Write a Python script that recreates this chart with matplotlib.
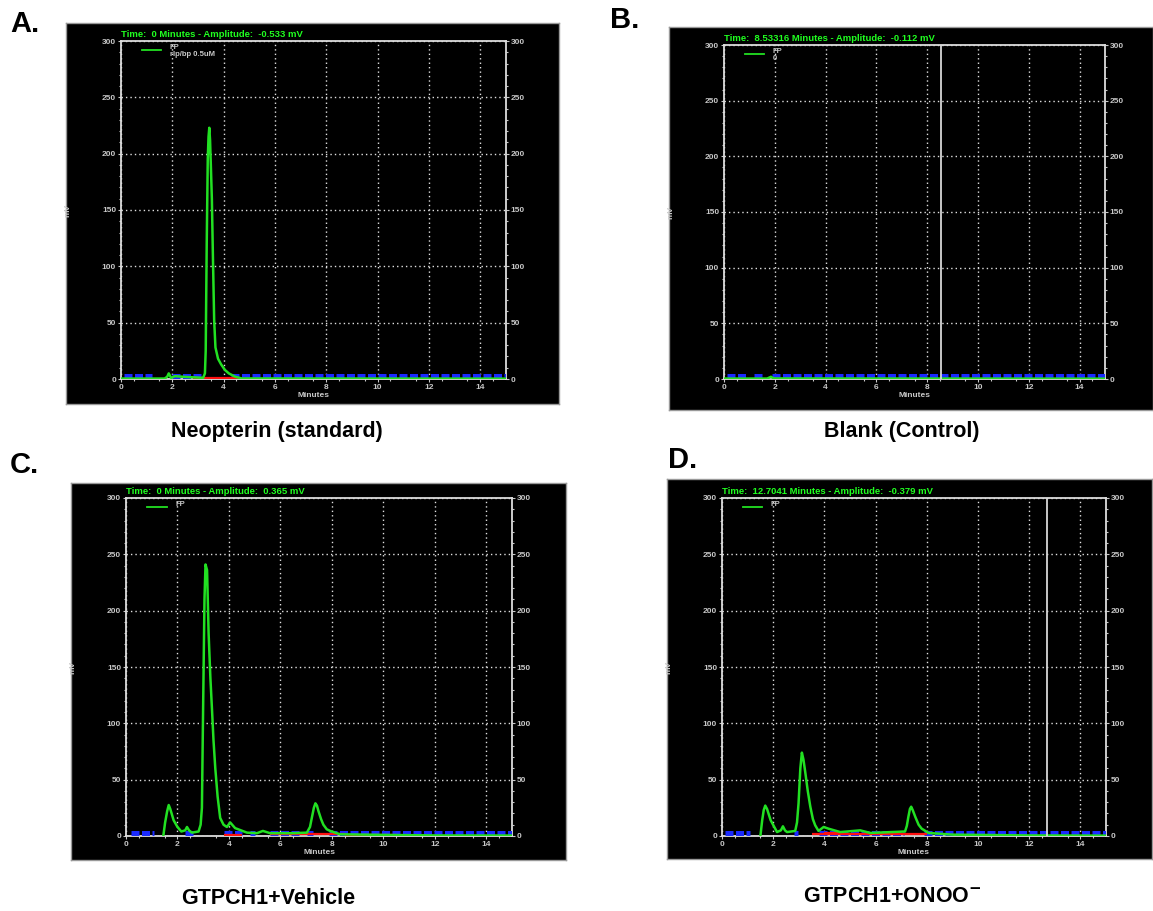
import matplotlib
matplotlib.use("Agg")
import matplotlib.pyplot as plt

W, H = 1153, 911

# green FP traces (minutes, mV)
time_a = [0, 1.7, 1.8, 1.86, 1.95, 2.1, 2.4, 3.2, 3.27, 3.3, 3.34, 3.38, 3.41, 3.44, 3.47,
          3.5, 3.54, 3.58, 3.63, 3.68, 3.78, 3.9, 4.05, 4.2, 4.45, 4.7, 15]
mv_a = [0.4, 0.4, 2, 5, 1, 2.5, 2, 1, 5, 25, 120, 195, 215, 223, 212,
        190, 160, 110, 52, 28, 18, 13, 8, 5, 2, 0.5, 0.3]

time_b = [0, 1.7, 1.85, 1.95, 2.1, 15]
mv_b = [0.4, 0.4, 2, 0.6, 0.5, 0.3]

time_c = [1.45, 1.52, 1.6, 1.66, 1.72, 1.85, 2.0, 2.15, 2.3, 2.37, 2.45, 2.56, 2.82, 2.9, 2.95,
          3.0, 3.05, 3.09, 3.15, 3.21, 3.28, 3.34, 3.4, 3.47, 3.56, 3.66, 3.79, 3.92, 4.05,
          4.24, 4.7, 5.09, 5.32, 5.6, 6.5, 7.03, 7.15, 7.22, 7.3, 7.36, 7.42, 7.48, 7.58,
          7.67, 7.8, 7.93, 8.32, 10, 12, 15]
mv_c = [0, 12, 22, 27.5, 24, 14, 8, 4, 5, 8, 5, 3, 4, 10, 25,
        120, 210, 241, 236, 180, 140, 113, 85, 60, 35, 16, 10, 8, 12,
        7, 3, 2.5, 4.5, 2.5, 2.5, 3, 8, 16, 25, 29, 27, 22, 15,
        10, 6, 4.5, 1.5, 1, 0.5, 0.4]

time_d = [1.5, 1.57, 1.63, 1.69, 1.76, 1.9, 2.15, 2.3, 2.38, 2.46, 2.54, 2.86, 2.93, 2.99,
          3.06, 3.12, 3.18, 3.25, 3.35, 3.45, 3.55, 3.64, 3.77, 3.97, 4.16, 4.62, 5.4,
          5.79, 7.15, 7.22, 7.28, 7.34, 7.39, 7.45, 7.55, 7.68, 7.8, 8.07, 9, 12, 15]
mv_d = [0, 14, 23, 27, 24, 14, 3.5, 5, 8.6, 5, 3.5, 4.5, 12, 29,
        60, 74, 68, 57, 40, 26, 15, 9.5, 4.5, 8, 6.5, 3.5, 5,
        2.7, 4, 9, 17, 24, 26, 23, 17, 10, 6.5, 2.7, 1.2, 0.5, 0.3]

# blue baseline-noise bands (start, end) in minutes
blue_a = [(0.1, 1.2), (2.0, 3.2), (4.3, 15.0)]
blue_b = [(0.1, 0.9), (1.2, 1.5), (1.9, 15.0)]
blue_c = [(0.2, 1.1), (2.3, 2.7), (3.8, 4.5), (4.8, 5.0), (5.6, 6.8), (7.05, 7.25), (7.9, 15.0)]
blue_d = [(0.1, 1.1), (2.8, 2.95), (3.8, 7.1), (7.9, 15.0)]

# red integration baseline segments (start, end, mV)
red_a = [(2.8, 4.6, 0.6)]
red_b = []
red_c = [(3.8, 4.5, 1.0), (5.6, 8.5, 1.8), (8.5, 10.5, 0.8)]
red_d = [(3.5, 8.0, 1.5), (4.0, 4.6, 3.0)]

cursor = [None, 8.53316, None, 12.7041]
headers = ["Time:  0 Minutes - Amplitude:  -0.533 mV",
           "Time:  8.53316 Minutes - Amplitude:  -0.112 mV",
           "Time:  0 Minutes - Amplitude:  0.365 mV",
           "Time:  12.7041 Minutes - Amplitude:  -0.379 mV"]
legend_text = ["FP\nrlp/bp 0.5uM", "FP\n0", "FP", "FP"]
letters = ["A.", "B.", "C.", "D."]
captions = ["Neopterin (standard)", "Blank (Control)", "GTPCH1+Vehicle",
            "GTPCH1+ONOO$^{\\mathbf{-}}$"]

# pixel boxes (left, top, right, bottom)
black_box = [(66, 23, 559, 404), (669, 27, 1153, 410), (71, 483, 566, 860), (667, 479, 1152, 859)]
plot_box = [(121, 41, 506, 379), (724, 45, 1105, 379), (126, 498, 512, 836), (722, 498, 1106, 836)]
letter_pos = [(10, 24), (610, 20), (10, 465), (668, 460)]
caption_pos = [(277, 431), (902, 431), (268, 898), (892, 897)]


def box(l, t, r, b):
    return [l / W, 1 - b / H, (r - l) / W, (b - t) / H]


plt.rcParams['font.family'] = ['Liberation Sans', 'DejaVu Sans']
fig = plt.figure(figsize=(W / 100, H / 100), dpi=100)
fig.patch.set_facecolor('white')

traces = [(time_a, mv_a), (time_b, mv_b), (time_c, mv_c), (time_d, mv_d)]
blues = [blue_a, blue_b, blue_c, blue_d]
reds = [red_a, red_b, red_c, red_d]
grey = '#c8c8c8'

for i in range(4):
    bg = fig.add_axes(box(*black_box[i]))
    bg.set_facecolor('black')
    bg.set_xticks([])
    bg.set_yticks([])
    for s in bg.spines.values():
        s.set_color('#999999')
        s.set_linewidth(1)

    ax = fig.add_axes(box(*plot_box[i]))
    ax.set_facecolor('black')
    ax.set_xlim(0, 15)
    ax.set_ylim(0, 300)
    ax.set_xticks(range(0, 15, 2))
    ax.set_yticks(range(0, 301, 50))
    ax.set_xticks([x + 0.5 for x in range(0, 15)], minor=True)
    ax.set_yticks(range(0, 301, 10), minor=True)
    ax.tick_params(which='both', colors=grey, labelcolor=grey, labelsize=6,
                   right=True, labelright=True, direction='out', length=2, width=0.8, pad=1.5)
    ax.tick_params(which='minor', length=1.2)
    for lab in ax.get_xticklabels() + ax.get_yticklabels():
        lab.set_fontweight('bold')
    for s in ax.spines.values():
        s.set_color('#dddddd')
        s.set_linewidth(1.3)
    ax.grid(True, which='major', color='#e0e0e0', linestyle=(0, (1, 2.2)), linewidth=1)
    ax.set_xlabel("Minutes", color=grey, fontsize=6, fontweight='bold', labelpad=1)
    ax.set_ylabel("mV", color=grey, fontsize=6, fontweight='bold', labelpad=22)

    for a, b in blues[i]:
        ax.hlines(2.5, a, b, color='#1a2aff', linewidth=3.6, linestyle=(0, (1.6, 0.5)), zorder=3)
    for a, b, lv in reds[i]:
        ax.hlines(lv, a, b, color='#ff1010', linewidth=1.6, zorder=3)
    t, v = traces[i]
    ax.plot(t, v, color='#22e022', linewidth=1.8, zorder=4)
    if cursor[i] is not None:
        ax.axvline(cursor[i], color='#d8d8d8', linewidth=1.3, zorder=5)

    ax.text(0.0, 1.006, headers[i], transform=ax.transAxes, color='#20ff20',
            fontsize=6.8, fontweight='bold', va='bottom', ha='left')
    ax.plot([0.055, 0.105], [0.974, 0.974], transform=ax.transAxes, color='#22e022', linewidth=1.3)
    ax.text(0.127, 0.99, legend_text[i], transform=ax.transAxes, color=grey,
            fontsize=5.5, fontweight='bold', va='top', ha='left', linespacing=1.0)

    fig.text(letter_pos[i][0] / W, 1 - letter_pos[i][1] / H, letters[i], fontsize=21,
             fontweight='bold', ha='left', va='center')
    fig.text(caption_pos[i][0] / W, 1 - caption_pos[i][1] / H, captions[i], fontsize=15.5,
             fontweight='bold', ha='center', va='center')

fig.savefig("out.png", dpi=100, facecolor='white')
